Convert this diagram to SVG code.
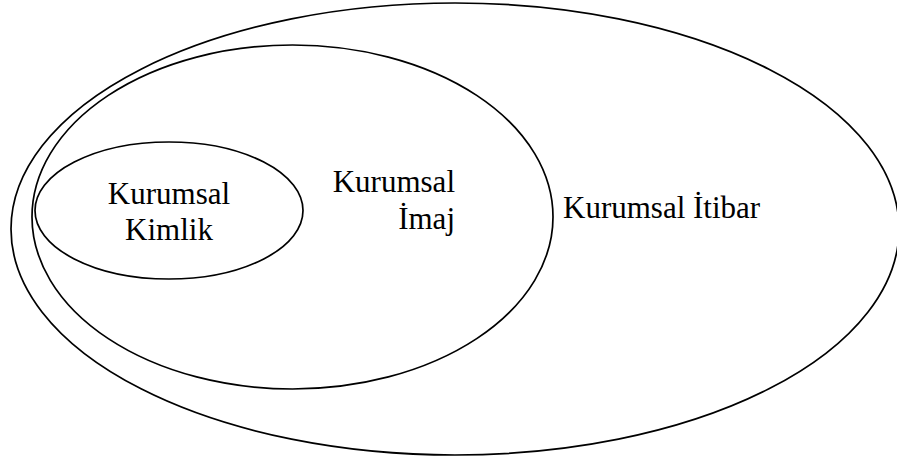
<svg xmlns="http://www.w3.org/2000/svg" width="897" height="462" viewBox="0 0 897 462">
  <style>
    .ring { fill: none; stroke: #000; stroke-width: 1.7; }
    text { font-size: 31px; fill: #000; }
  </style>
  <rect width="897" height="462" fill="#fff"/>
  <!-- Outermost: corporate reputation -->
  <g id="kurumsal-itibar">
    <ellipse class="ring" cx="455" cy="229" rx="444" ry="226"/>
    <text font-family="Liberation Serif, DejaVu Serif, serif" x="563" y="218">Kurumsal İtibar</text>
  </g>
  <!-- Middle: corporate image -->
  <g id="kurumsal-imaj">
    <ellipse class="ring" cx="292.5" cy="217" rx="260.5" ry="172"/>
    <text font-family="Liberation Serif, DejaVu Serif, serif" x="455" y="192" text-anchor="end">Kurumsal</text>
    <text font-family="Liberation Serif, DejaVu Serif, serif" x="455" y="229" text-anchor="end">İmaj</text>
  </g>
  <!-- Innermost: corporate identity -->
  <g id="kurumsal-kimlik">
    <ellipse class="ring" cx="169" cy="210.5" rx="134" ry="68.5"/>
    <text font-family="Liberation Serif, DejaVu Serif, serif" x="169" y="204" text-anchor="middle">Kurumsal</text>
    <text font-family="Liberation Serif, DejaVu Serif, serif" x="169" y="240" text-anchor="middle">Kimlik</text>
  </g>
</svg>
